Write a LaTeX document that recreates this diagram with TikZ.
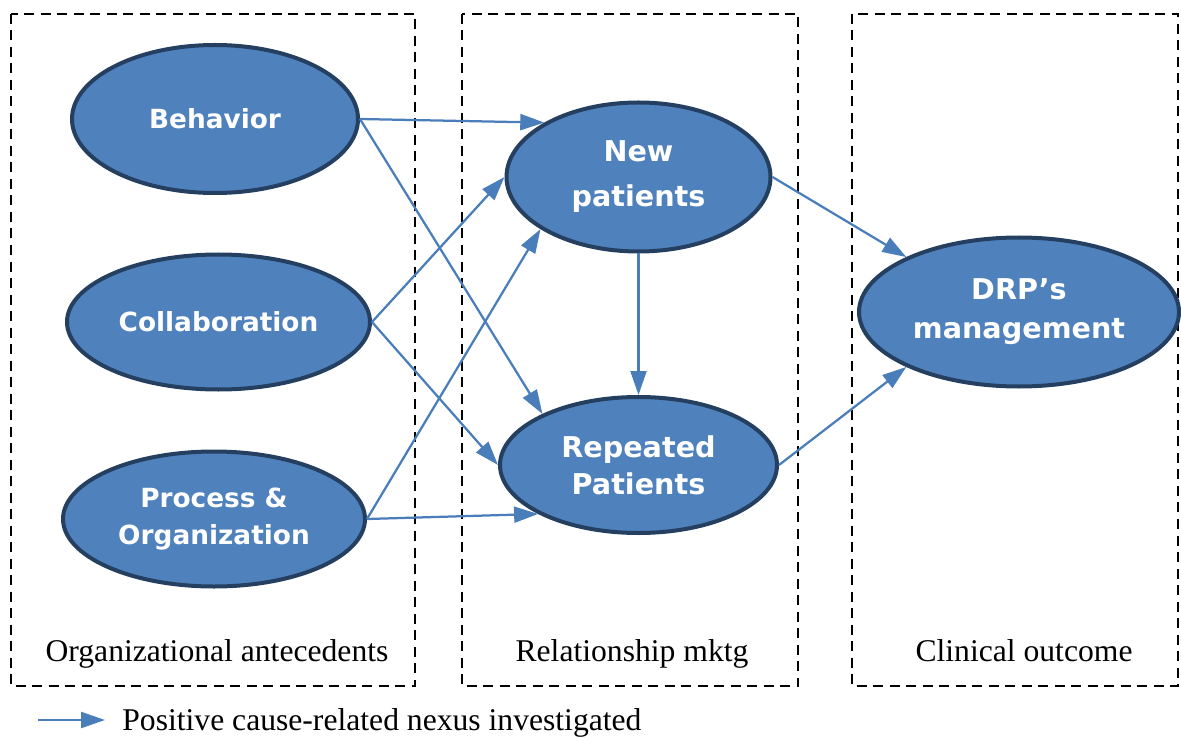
\documentclass[tikz,border=0pt]{standalone}
\usepackage{fontspec}
\setmainfont{Liberation Serif}
\newfontfamily\ovalfont{DejaVu Sans}
\usepackage{tikz}
\usetikzlibrary{arrows.meta,shapes.geometric}
\definecolor{ovalblue}{RGB}{79,129,189}
\definecolor{ovaledge}{RGB}{36,63,96}
\definecolor{linkblue}{RGB}{74,126,187}

\begin{document}
\begin{tikzpicture}[
  oval/.style={ellipse, draw=ovaledge, line width=0.08cm, fill=ovalblue, text=white,
    align=center, inner sep=0pt, font=\ovalfont\bfseries\fontsize{15}{21}\selectfont},
  bigoval/.style={oval, font=\ovalfont\bfseries\fontsize{16.3}{#1}\selectfont},
  link/.style={draw=linkblue, line width=0.045cm, -{Triangle[length=0.48cm,width=0.32cm]}},
  group/.style={dash pattern=on 0.2cm off 0.13cm, line width=0.055cm},
  caption/.style={anchor=base, font=\fontsize{18}{22}\selectfont}
]
\useasboundingbox (0,0) rectangle (23.62,-14.76);

\draw[group] (0.22,-0.28) rectangle (8.30,-13.72);
\draw[group] (9.24,-0.28) rectangle (15.96,-13.72);
\draw[group] (17.04,-0.28) rectangle (23.56,-13.72);

\node (beh) at (4.30,-2.38) [oval, minimum width=5.72cm, minimum height=2.96cm] {Behavior};
\node (coll) at (4.37,-6.44) [oval, minimum width=6.06cm, minimum height=2.70cm] {Collaboration};
\node (proc) at (4.28,-10.38) [oval, minimum width=6.04cm, minimum height=2.70cm] {Process \&\\Organization};

\node (newp) at (12.77,-3.54) [bigoval=25.6, minimum width=5.28cm, minimum height=2.98cm] {New\\patients};
\node (rep) at (12.77,-9.30) [bigoval=21, minimum width=5.54cm, minimum height=2.72cm] {Repeated\\Patients};

\node (drp) at (20.38,-6.24) [bigoval=22.2, minimum width=6.40cm, minimum height=2.98cm] {DRP’s\\management};

\draw[link] (beh.east) -- (newp.150);
\draw[link] (beh.east) -- (rep.152);
\draw[link] (coll.east) -- (newp.west);
\draw[link] (coll.east) -- (rep.west);
\draw[link] (proc.east) -- (newp.208);
\draw[link] (proc.east) -- (rep.206);
\draw[link] (newp.south) -- (rep.north);
\draw[link] (newp.east) -- (drp.154);
\draw[link] (rep.east) -- (drp.206);

\node[caption] (orgcap) at (4.34,-13.22) {Organizational antecedents};
\node[caption] (relcap) at (12.64,-13.22) {Relationship mktg};
\node[caption] (clincap) at (20.48,-13.22) {Clinical outcome};

% legend
\coordinate (legstart) at (0.76,-14.4);
\coordinate (legtip) at (2.10,-14.4);
\draw[link] (legstart) -- (legtip);
\node[caption, anchor=base west, inner sep=0pt] (legend) at (2.44,-14.6) {Positive cause-related nexus investigated};
\end{tikzpicture}
\end{document}
